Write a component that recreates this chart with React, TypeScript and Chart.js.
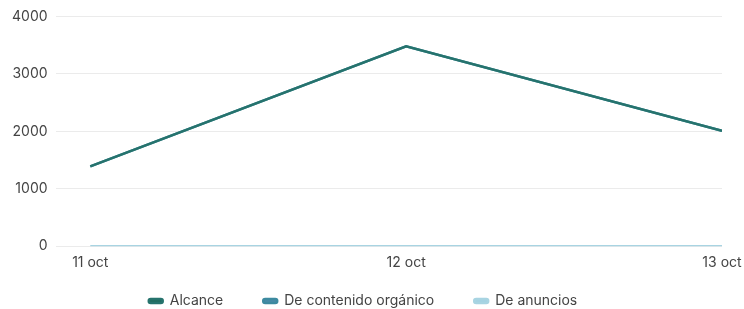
import React, { useEffect, useRef } from "react";
import { Chart, registerables } from "chart.js";

Chart.register(...registerables);

const categories = ["11 oct", "12 oct", "13 oct"];
const alcance = [1390, 3480, 2010];
const organico = [1390, 3480, 2010];
const anuncios = [0, 0, 0];
const yTicks = [0, 1000, 2000, 3000, 4000];

const LEGEND_PAD = 40;
const LEGEND_H = 30;
const LEGEND_SHIFT = 25;
const LEGEND_SHIFT_X = 11;

const legendPatch = {
  id: "legendPatch",
  beforeUpdate(chart: any) {
    const lg = chart.legend;
    if (!lg || lg._patched) return;
    lg._patched = true;
    const origFit = lg.fit.bind(lg);
    lg.fit = function () {
      origFit();
      this.height = LEGEND_H;
    };
    const origDraw = lg.draw.bind(lg);
    lg.draw = function () {
      const t = this.top;
      const l = this.left;
      const r = this.right;
      this.top = t - LEGEND_SHIFT;
      this.left = l - LEGEND_SHIFT_X;
      this.right = r - LEGEND_SHIFT_X;
      origDraw();
      this.top = t;
      this.left = l;
      this.right = r;
    };
  },
};

export default function App() {
  const ref = useRef<HTMLCanvasElement>(null);
  useEffect(() => {
    document.body.style.margin = "0";
    const toPts = (arr: number[]) => arr.map((v, i) => ({ x: i, y: v }));
    const font = { family: "Inter", size: 14 };
    const chart = new Chart(ref.current!, {
      type: "line",
      data: {
        datasets: [
          { label: "Alcance", data: toPts(alcance), borderColor: "#26736d", backgroundColor: "#1f6b5e", borderWidth: 2.5, pointRadius: 0, order: 0 },
          { label: "De contenido orgánico", data: toPts(organico), borderColor: "#3d8aa0", backgroundColor: "#4a8aa8", borderWidth: 2.5, pointRadius: 0, order: 1 },
          { label: "De anuncios", data: toPts(anuncios), borderColor: "#a8d4e2", backgroundColor: "#a3d2e2", borderWidth: 2.5, pointRadius: 0, order: 2 },
        ],
      },
      plugins: [legendPatch],
      options: {
        animation: false,
        responsive: false,
        layout: { padding: { top: 5, right: 0, left: 4, bottom: 0 } },
        plugins: {
          legend: {
            position: "bottom",
            sort: (a: any, b: any) => a.datasetIndex - b.datasetIndex,
            labels: {
              boxWidth: 14,
              boxHeight: 4,
              useBorderRadius: true,
              borderRadius: 2,
              padding: LEGEND_PAD,
              color: "#444",
              font,
            },
          },
          tooltip: { enabled: false },
        },
        scales: {
          x: {
            type: "linear",
            min: -0.11,
            max: 2,
            afterBuildTicks: (s: any) => {
              s.ticks = categories.map((_, i) => ({ value: i }));
            },
            afterFit: (s: any) => {
              s.paddingRight = 22;
            },
            ticks: {
              callback: (v: any) => categories[v as number] ?? "",
              color: "#444",
              font,
              maxRotation: 0,
              padding: 8,
            },
            grid: { display: false, drawTicks: false },
            border: { display: false },
          },
          y: {
            min: 0,
            max: 4000,
            afterBuildTicks: (s: any) => {
              s.ticks = yTicks.map((v) => ({ value: v }));
            },
            ticks: {
              callback: (v: any) => String(v),
              color: "#444",
              font,
              padding: 8,
            },
            grid: { color: "#ebebeb", drawTicks: false },
            border: { display: false },
          },
        },
      },
    });
    return () => chart.destroy();
  }, []);
  return (
    <div style={{ width: 744, height: 309 }}>
      <canvas ref={ref} width={744} height={309} />
    </div>
  );
}
